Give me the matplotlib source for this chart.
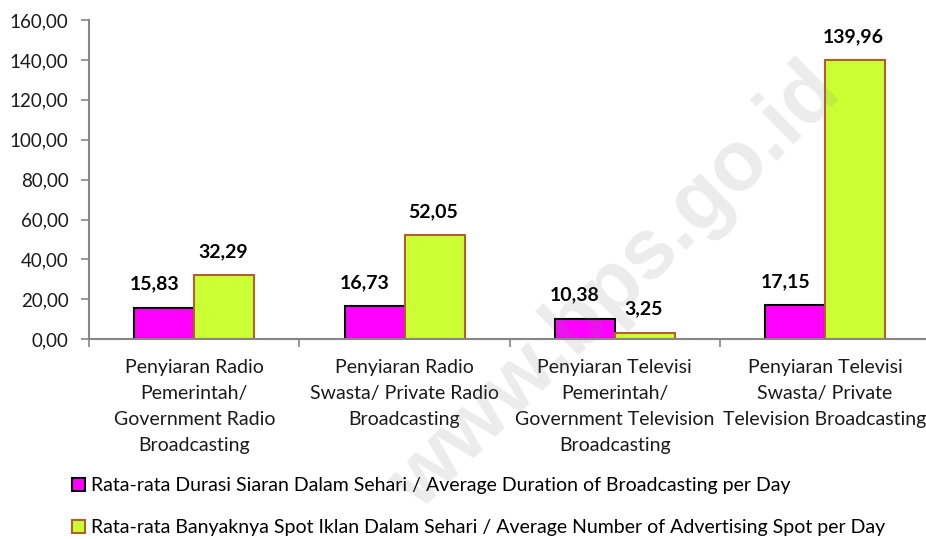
import matplotlib
matplotlib.use("Agg")
import matplotlib.pyplot as plt
import numpy as np

categories = [
    "Penyiaran Radio\nPemerintah/\nGovernment Radio\nBroadcasting",
    "Penyiaran Radio\nSwasta/ Private Radio\nBroadcasting",
    "Penyiaran Televisi\nPemerintah/\nGovernment Television\nBroadcasting",
    "Penyiaran Televisi\nSwasta/ Private\nTelevision Broadcasting",
]
duration = [15.83, 16.73, 10.38, 17.15]
spots = [32.29, 52.05, 3.25, 139.96]
series_names = [
    "Rata-rata Durasi Siaran Dalam Sehari / Average Duration of Broadcasting per Day",
    "Rata-rata Banyaknya Spot Iklan Dalam Sehari / Average Number of Advertising Spot per Day",
]
yticks = [0, 20, 40, 60, 80, 100, 120, 140, 160]

FONT = ["Lato", "DejaVu Sans"]
plt.rcParams["font.family"] = FONT

fig = plt.figure(figsize=(9.26, 5.39), dpi=100)
ax = fig.add_axes([89.3 / 926, 1 - 339.3 / 539, (930.0 - 89.3) / 926, (339.3 - 20.0) / 539])

x = np.arange(len(categories))
w = 1 / 3.5
b1 = ax.bar(x - w / 2, duration, width=w, color="#FF00FF", edgecolor="black", linewidth=1.5, label=series_names[0])
b2 = ax.bar(x + w / 2, spots, width=w, color="#CCFF33", edgecolor="#B0602A", linewidth=1.5, label=series_names[1])

def fmt(v):
    return f"{v:.2f}".replace(".", ",")

for rect, v in zip(b1, duration):
    ax.annotate(fmt(v), (rect.get_x() + rect.get_width() / 2, v), xytext=(-7, 17),
                textcoords="offset points", ha="center", va="center",
                fontsize=14, fontweight="bold", color="black")
for rect, v in zip(b2, spots):
    ax.annotate(fmt(v), (rect.get_x() + rect.get_width() / 2, v), xytext=(-1, 17),
                textcoords="offset points", ha="center", va="center",
                fontsize=14, fontweight="bold", color="black")

ax.set_xlim(-0.5, len(categories) - 0.5)
ax.set_ylim(0, 160)
ax.set_yticks(yticks)
ax.set_yticklabels([fmt(t) for t in yticks], fontsize=13.5, color="#1a1a1a")

ax.set_xticks(np.arange(len(categories) + 1) - 0.5)
ax.set_xticklabels([])
ax.set_xticks(x, minor=True)
ax.set_xticklabels(categories, minor=True, fontsize=14, color="#1a1a1a", linespacing=1.64)
ax.tick_params(axis="x", which="major", length=6, width=1.2, color="#868686", direction="out")
ax.tick_params(axis="x", which="minor", length=0, pad=14.5)
ax.tick_params(axis="y", length=6, width=1.2, color="#868686", direction="out", pad=9)

for s in ["top", "right"]:
    ax.spines[s].set_visible(False)
for s in ["left", "bottom"]:
    ax.spines[s].set_color("#868686")
    ax.spines[s].set_linewidth(1.5)

fig.legend(handles=[b1, b2], labels=series_names, loc="upper left",
           bbox_to_anchor=(72 / 926, 1 - 477 / 539), frameon=False, fontsize=14,
           handlelength=0.68, handleheight=0.68, handletextpad=0.3, labelspacing=1.3,
           borderpad=0, borderaxespad=0)

fig.text(616 / 926, 1 - 288 / 539, "www.bps.go.id", rotation=44.5, ha="center", va="center",
         fontsize=61, fontweight="bold", family=["Liberation Sans", "DejaVu Sans"],
         color="#808080", alpha=0.15, rotation_mode="anchor", zorder=10)

fig.savefig("out.png", dpi=100)
